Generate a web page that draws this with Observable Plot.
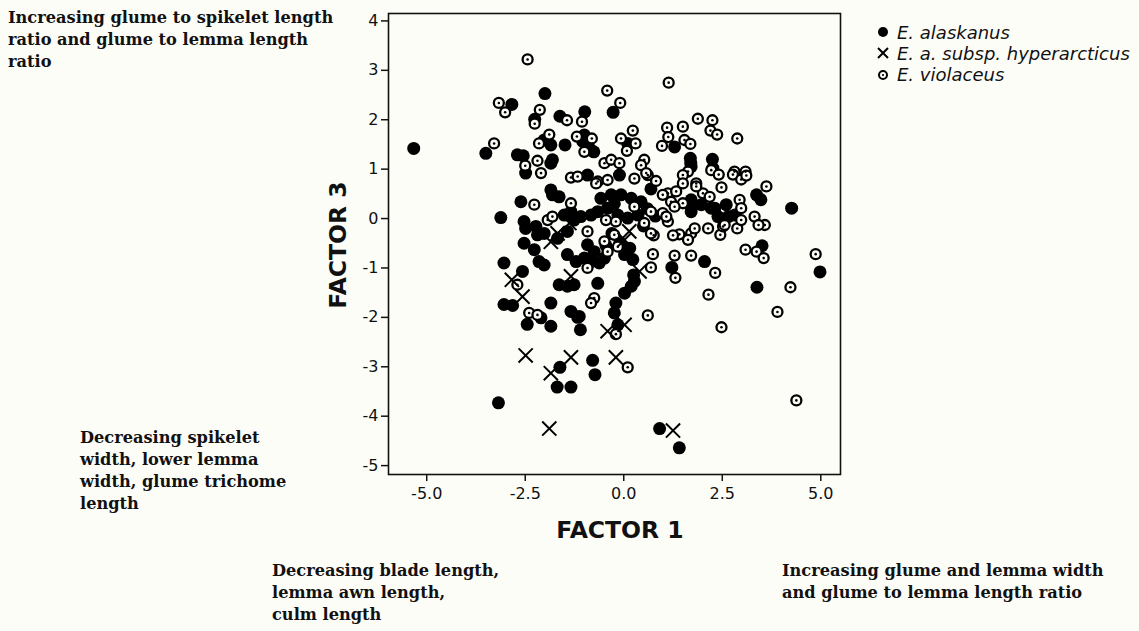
<!DOCTYPE html>
<html><head><meta charset="utf-8">
<script src="https://cdn.jsdelivr.net/npm/d3@7"></script>
<script src="https://cdn.jsdelivr.net/npm/@observablehq/plot@0.6"></script>
<style>
body{margin:0;background:#fdfdf8;}
#wrap{position:relative;width:1139px;height:631px;overflow:hidden;background:#fdfdf8;}
#wrap > svg{position:absolute;left:0;top:0;}
.note{position:absolute;font-family:"DejaVu Serif",serif;font-weight:bold;font-size:16.2px;line-height:22px;color:#111;white-space:nowrap;}
.axt{position:absolute;font-family:"DejaVu Sans",sans-serif;font-weight:bold;font-size:23.5px;color:#111;white-space:nowrap;}
.leg{position:absolute;left:876px;font-family:"DejaVu Sans",sans-serif;font-style:italic;font-size:18px;color:#111;white-space:nowrap;display:flex;align-items:center;height:20px;}
.leg svg{position:static;margin-right:7px;flex:none;}
</style></head><body><div id="wrap"></div>
<script>
const xTicks = [-5, -2.5, 0, 2.5, 5];
const yTicks = [-5, -4, -3, -2, -1, 0, 1, 2, 3, 4];
const speciesNames = ["E. alaskanus", "E. a. subsp. hyperarcticus", "E. violaceus"];

const alaskanus = [
[-2.0,2.53],[-2.84,2.31],[-2.26,2.01],[-1.62,2.07],[-0.99,2.16],[-5.33,1.42],[-3.5,1.32],[-2.02,1.59],[-1.85,1.49],[-1.81,1.19],
[-1.49,1.49],[-2.7,1.29],[-2.55,1.27],[-1.0,1.69],[-1.04,1.56],[-0.87,1.42],[-0.76,1.35],[-0.27,2.15],[1.29,1.45],[0.1,1.52],
[1.69,1.22],[2.25,1.2],[1.71,1.05],[2.26,1.02],[1.7,1.12],[3.37,0.48],[3.48,0.38],[4.26,0.21],[2.6,0.28],[2.31,0.21],
[2.65,0.04],[1.71,0.14],[1.71,0.38],[0.69,0.6],[3.51,-0.55],[4.98,-1.08],[2.05,-0.87],[1.22,-0.99],[3.38,-1.39],[-0.66,-1.31],
[-0.2,-1.71],[-0.24,-1.91],[0.02,-1.51],[0.19,-1.37],[0.25,-1.14],[-0.11,0.88],[-0.58,0.41],[-0.32,0.48],[-0.07,0.48],[0.19,0.41],
[0.44,0.34],[-0.66,0.14],[-0.41,0.21],[-0.15,0.07],[0.1,0.01],[0.36,0.07],[1.97,0.28],[2.22,0.21],[2.39,0.04],[2.82,0.07],
[2.52,-0.03],[1.71,0.21],[-2.49,0.92],[-1.85,1.12],[-0.92,0.88],[-1.85,0.58],[-1.81,0.48],[-1.64,0.44],[-2.61,0.34],[-3.12,0.02],
[-2.53,-0.06],[-2.49,-0.2],[-2.23,-0.16],[-2.19,-0.33],[-2.02,-0.3],[-1.51,0.07],[-1.34,0.14],[-1.68,-0.4],[-1.43,-0.26],[-1.26,-0.03],
[-1.09,0.04],[-0.83,0.07],[-2.53,-0.5],[-2.27,-0.63],[-2.15,-0.87],[-2.02,-0.94],[-3.04,-0.9],[-2.57,-1.07],[-1.43,-0.73],[-1.21,-0.87],
[-0.92,-0.53],[-0.75,-0.67],[-0.83,-0.87],[-1.0,-0.8],[-1.64,-1.34],[-1.43,-1.37],[-1.26,-1.34],[-3.04,-1.74],[-2.82,-1.76],[-1.85,-1.71],
[-1.34,-1.88],[-1.13,-1.98],[-2.45,-2.14],[-2.1,-2.01],[-1.85,-2.18],[-1.17,-2.0],[-1.1,-2.25],[-1.62,-3.01],[-1.69,-3.41],[-1.34,-3.41],
[-3.18,-3.73],[-0.79,-2.87],[-0.73,-3.16],[-0.15,-2.15],[0.91,-4.25],[1.41,-4.64],[-0.24,0.3],[-0.49,-0.8],[-0.62,-0.9],[0.02,-0.73],
[0.23,-0.83],[0.27,-1.27],[0.6,0.2],[0.8,0.05],[0.5,-0.15],[-0.3,-0.3],[-0.1,-0.5],[0.15,-0.6],[-0.45,-0.55]
];

const hyperarcticus = [
[-1.38,-0.09],[-1.68,-0.3],[-1.85,-0.47],[0.02,-0.43],[0.14,-0.26],[0.4,-1.07],[-1.34,-1.17],[-2.84,-1.24],[-2.57,-1.58],
[-2.49,-2.77],[-1.85,-3.13],[-1.34,-2.81],[-1.89,-4.25],[-0.41,-2.28],[0.02,-2.15],[-0.2,-2.81],[1.25,-4.29]
];

const violaceus = [
[-2.44,3.22],[-3.17,2.34],[-3.01,2.15],[-2.13,2.2],[-2.26,1.92],[-1.44,1.99],[-1.06,1.96],[-3.29,1.52],[-1.89,1.7],[-2.15,1.52],
[-2.19,1.17],[-2.5,1.07],[-1.19,1.66],[-0.81,1.62],[-1.0,1.35],[1.14,2.75],[-0.42,2.59],[-0.09,2.34],[1.88,2.02],[2.25,1.99],
[1.5,1.86],[1.1,1.84],[2.2,1.78],[2.37,1.7],[2.88,1.62],[1.13,1.65],[0.97,1.47],[1.54,1.59],[1.69,1.51],[0.23,1.78],
[-0.07,1.62],[0.3,1.52],[0.08,1.37],[-0.49,1.12],[-0.32,1.19],[-0.11,1.12],[0.52,1.19],[0.44,1.08],[2.81,0.95],[3.09,0.95],
[1.63,0.95],[1.5,0.88],[2.22,0.98],[2.41,0.89],[2.77,0.89],[2.98,0.79],[3.11,0.87],[3.62,0.65],[2.48,0.63],[0.82,0.76],
[0.61,0.88],[1.12,0.51],[1.33,0.55],[1.5,0.71],[1.84,0.71],[2.01,0.51],[2.18,0.44],[2.94,0.38],[2.98,0.21],[3.32,0.04],
[3.58,-0.13],[3.42,-0.13],[2.88,-0.2],[2.45,-0.33],[2.52,-0.16],[2.14,-0.2],[1.71,-0.3],[1.41,-0.32],[1.25,-0.34],[1.63,-0.43],
[0.76,-0.34],[3.09,-0.63],[3.37,-0.67],[3.55,-0.8],[4.87,-0.72],[0.74,-0.72],[1.29,-0.75],[1.71,-0.75],[2.32,-1.1],[0.69,-0.99],
[1.31,-1.2],[4.23,-1.39],[2.15,-1.54],[3.9,-1.89],[0.61,-1.96],[-0.75,-1.61],[0.57,0.92],[0.27,0.81],[-0.66,0.75],[-0.41,0.78],
[0.27,0.24],[0.69,0.14],[0.52,-0.09],[-0.2,-0.06],[-0.45,-0.03],[0.69,-0.3],[0.99,0.11],[1.12,-0.06],[0.99,0.48],[1.2,0.34],
[1.5,0.31],[1.84,0.65],[-2.1,0.92],[-1.34,0.83],[-1.17,0.85],[-0.7,0.71],[-2.27,0.28],[-1.34,0.31],[-1.93,-0.03],[-1.81,0.04],
[-0.92,-0.26],[-0.92,-1.0],[-2.7,-1.34],[-2.4,-1.91],[-2.19,-1.95],[-0.83,-1.71],[-0.2,-2.34],[2.48,-2.2],[0.1,-3.01],[4.38,-3.68],
[-0.49,-0.46],[-0.24,-0.33],[-0.15,-0.57],[-0.41,-0.67],[1.08,0.04],[1.29,0.24],[2.56,-0.13],[1.8,-0.2],[2.98,-0.03]
];

const ink = "#111";
const chart = Plot.plot({
  width: 1139, height: 631,
  marginLeft: 388, marginRight: 299, marginTop: 13, marginBottom: 157,
  x: {domain: [-5.97, 5.5]},
  y: {domain: [-5.18, 4.15]},
  style: {background: "transparent", fontFamily: "DejaVu Sans, sans-serif", fontSize: "16px", color: ink, overflow: "visible"},
  marks: [
    Plot.axisX({ticks: xTicks, tickFormat: d => d.toFixed(1), tickSize: 7, tickPadding: 6, strokeWidth: 1.5, label: null, fontSize: 16}),
    Plot.axisY({ticks: yTicks, tickFormat: d => String(d), tickSize: 7, tickPadding: 3, strokeWidth: 1.5, label: null, fontSize: 16}),
    Plot.dot(alaskanus, {x: d => d[0], y: d => d[1], r: 6.5, fill: "#000", stroke: "none"}),
    Plot.dot(violaceus, {x: d => d[0], y: d => d[1], r: 5, fill: "#fdfdf8", stroke: "#000", strokeWidth: 2.3}),
    Plot.dot(violaceus, {x: d => d[0], y: d => d[1], r: 1.3, fill: "#000", stroke: "none"}),
    Plot.dot(hyperarcticus, {x: d => d[0], y: d => d[1], symbol: "times", r: 6.5, stroke: "#000", strokeWidth: 2}),
    Plot.frame({stroke: ink, strokeWidth: 1.6})
  ]
});
const wrap = document.getElementById("wrap");
wrap.appendChild(chart);

function note(html, left, top) {
  const d = document.createElement("div");
  d.className = "note"; d.style.left = left + "px"; d.style.top = top + "px";
  d.innerHTML = html; wrap.appendChild(d);
}
note("Increasing glume to spikelet length<br>ratio and glume to lemma length<br>ratio", 8, 7);
note("Decreasing spikelet<br>width, lower lemma<br>width, glume trichome<br>length", 80, 427);
note("Decreasing blade length,<br>lemma awn length,<br>culm length", 272, 560);
note("Increasing glume and lemma width<br>and glume to lemma length ratio", 782, 560);

const ax1 = document.createElement("div");
ax1.className = "axt"; ax1.textContent = "FACTOR 1";
ax1.style.left = "620px"; ax1.style.top = "530px";
ax1.style.transform = "translate(-50%,-50%)";
wrap.appendChild(ax1);
const ax3 = document.createElement("div");
ax3.className = "axt"; ax3.textContent = "FACTOR 3";
ax3.style.left = "338px"; ax3.style.top = "245px";
ax3.style.transform = "translate(-50%,-50%) rotate(-90deg)";
wrap.appendChild(ax3);

const legSym = [
  '<svg width="14" height="14"><circle cx="7" cy="7" r="5" fill="#000"/></svg>',
  '<svg width="14" height="14"><path d="M2,2L12,12M12,2L2,12" stroke="#000" stroke-width="2"/></svg>',
  '<svg width="14" height="14"><circle cx="7" cy="7" r="4" fill="none" stroke="#000" stroke-width="2"/><circle cx="7" cy="7" r="1.1" fill="#000"/></svg>'
];
speciesNames.forEach((n, i) => {
  const d = document.createElement("div");
  d.className = "leg"; d.style.top = (22 + i * 21.3) + "px";
  d.innerHTML = legSym[i] + "<span>" + n + "</span>";
  wrap.appendChild(d);
});
</script></body></html>
